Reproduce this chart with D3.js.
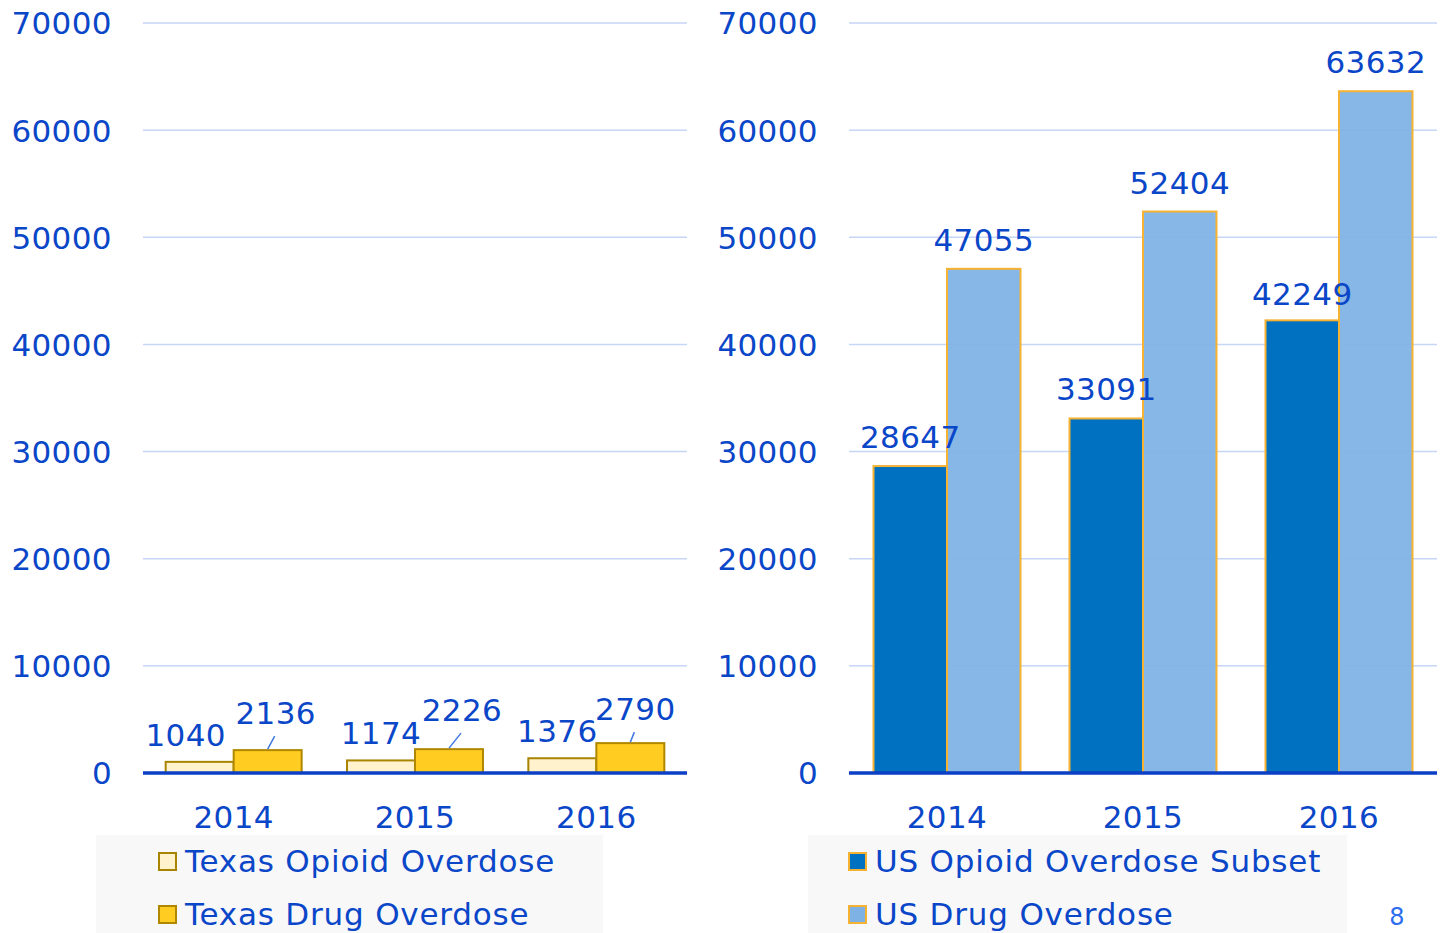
<!DOCTYPE html>
<html>
<head>
<meta charset="utf-8">
<script src="https://cdn.jsdelivr.net/npm/d3@7"></script>
<style>
  html, body { margin: 0; padding: 0; background: #ffffff; }
  svg { display: block; font-family: "DejaVu Sans", Verdana, sans-serif; letter-spacing: 0.4px; }
</style>
</head>
<body>
<svg id="chart" width="1443" height="933"></svg>
<script>
// ---- Data ----
const years = ["2014", "2015", "2016"];
const yTicks = [0, 10000, 20000, 30000, 40000, 50000, 60000, 70000];
const texasSeries = ["Texas Opioid Overdose", "Texas Drug Overdose"];
const texasOpioid = [1040, 1174, 1376];
const texasDrug = [2136, 2226, 2790];
const usSeries = ["US Opioid Overdose Subset", "US Drug Overdose"];
const usOpioid = [28647, 33091, 42249];
const usDrug = [47055, 52404, 63632];
const pageNumber = "8";

// ---- Layout / style ----
const W = 1443, H = 933;
const textColor = "#0a46c8";
const gridColor = "#c6d6f6";
const axisColor = "#0a3fc6";
const fontSize = 31;
const texasFill = ["#fff2cc", "#ffcc22"];
const texasStroke = ["#a88400", "#b08800"];
const usFill = ["#0070c0", "#7fb2e4"];
const usStroke = "#f5b233";
// label placement tweaks (Texas panel)
const opioidLabelDx = [-14, 0, -5];
const calloutDx = [8, 13, 5];
const calloutDy = [-25, -27, -22];

const svg = d3.select("#chart");
const y = d3.scaleLinear().domain([0, 70000]).range([773, 23]);

function panel(opts) {
  const g = svg.append("g");
  const x0 = d3.scaleBand().domain(years).range([opts.x0, opts.x1]).paddingInner(0).paddingOuter(0);
  const x1 = d3.scaleBand().domain(opts.series).range([x0.bandwidth() * 0.125, x0.bandwidth() * 0.875]);

  g.append("g").selectAll("line").data(yTicks.filter(t => t > 0)).join("line")
    .attr("x1", opts.x0).attr("x2", opts.x1)
    .attr("y1", d => y(d)).attr("y2", d => y(d))
    .attr("stroke", gridColor).attr("stroke-width", 1.5);

  const yAxis = d3.axisLeft(y).tickValues(yTicks).tickSize(0).tickPadding(0).tickFormat(d3.format("d"));
  const ya = g.append("g").attr("transform", `translate(${opts.labelX},0)`).call(yAxis);
  ya.select(".domain").remove();
  ya.selectAll("text").attr("fill", textColor).attr("font-size", fontSize)
    .attr("font-family", "DejaVu Sans, Verdana, sans-serif").attr("dy", "0.35em");

  const rows = years.map((yr, i) => ({ yr, i, vals: opts.values.map(v => v[i]) }));
  const grp = g.append("g").selectAll("g").data(rows).join("g")
    .attr("transform", d => `translate(${x0(d.yr)},0)`);
  grp.selectAll("rect").data(d => d.vals.map((v, k) => ({ v, k, s: opts.series[k] }))).join("rect")
    .attr("x", d => x1(d.s)).attr("width", x1.bandwidth())
    .attr("y", d => y(d.v)).attr("height", d => y(0) - y(d.v))
    .attr("fill", d => opts.fill[d.k])
    .attr("fill-opacity", d => opts.opacity ? opts.opacity[d.k] : 1)
    .attr("stroke", d => Array.isArray(opts.stroke) ? opts.stroke[d.k] : opts.stroke)
    .attr("stroke-width", 2);

  g.append("line").attr("x1", opts.x0).attr("x2", opts.x1)
    .attr("y1", y(0)).attr("y2", y(0))
    .attr("stroke", axisColor).attr("stroke-width", 3.5);

  const xAxis = d3.axisBottom(x0).tickSize(0).tickPadding(0);
  const xa = g.append("g").attr("transform", `translate(0,${y(0)})`).call(xAxis);
  xa.select(".domain").remove();
  xa.selectAll("text").attr("fill", textColor).attr("font-size", fontSize)
    .attr("font-family", "DejaVu Sans, Verdana, sans-serif").attr("dy", null).attr("y", 55);

  return { g, x0, x1, rows };
}

// ---- Left panel: Texas ----
const left = panel({ x0: 143, x1: 687, labelX: 112, series: texasSeries,
  values: [texasOpioid, texasDrug], fill: texasFill, stroke: texasStroke });
years.forEach((yr, i) => {
  const cO = left.x0(yr) + left.x1(texasSeries[0]) + left.x1.bandwidth() / 2;
  left.g.append("text").attr("x", cO + opioidLabelDx[i]).attr("y", y(texasOpioid[i]) - 16)
    .attr("text-anchor", "middle").attr("fill", textColor).attr("font-size", fontSize)
    .text(texasOpioid[i]);
  const cD = left.x0(yr) + left.x1(texasSeries[1]) + left.x1.bandwidth() / 2;
  const top = y(texasDrug[i]);
  left.g.append("line").attr("x1", cD).attr("y1", top - 1)
    .attr("x2", cD + calloutDx[i] - 1).attr("y2", top + calloutDy[i] + 11)
    .attr("stroke", "#3f78e0").attr("stroke-width", 1.5);
  left.g.append("text").attr("x", cD + calloutDx[i]).attr("y", top + calloutDy[i] - 1)
    .attr("text-anchor", "middle").attr("fill", textColor).attr("font-size", fontSize)
    .text(texasDrug[i]);
});

// ---- Right panel: US ----
const right = panel({ x0: 849, x1: 1437, labelX: 818, series: usSeries,
  values: [usOpioid, usDrug], fill: usFill, stroke: usStroke, opacity: [1, 0.94] });
years.forEach((yr, i) => {
  [usOpioid, usDrug].forEach((arr, k) => {
    const c = right.x0(yr) + right.x1(usSeries[k]) + right.x1.bandwidth() / 2;
    right.g.append("text").attr("x", c).attr("y", y(arr[i]) - (k === 0 && i === 2 ? 15 : 18))
      .attr("text-anchor", "middle").attr("fill", textColor).attr("font-size", fontSize)
      .text(arr[i]);
  });
});

// ---- Legends ----
function legend(x, w, series, fills, strokes, swatchX) {
  const g = svg.append("g");
  g.append("rect").attr("x", x).attr("y", 835).attr("width", w).attr("height", H - 835 + 5)
    .attr("fill", "#f8f8f8");
  series.forEach((s, k) => {
    const rowY = 861 + k * 53;
    g.append("rect").attr("x", swatchX).attr("y", rowY - 8).attr("width", 17).attr("height", 17)
      .attr("fill", fills[k]).attr("stroke", Array.isArray(strokes) ? strokes[k] : strokes).attr("stroke-width", 2);
    g.append("text").attr("x", swatchX + 26).attr("y", rowY).attr("dy", "0.35em")
      .attr("fill", textColor).attr("font-size", fontSize).attr("letter-spacing", "0.8px").text(s);
  });
}
legend(96, 507, texasSeries, texasFill, texasStroke, 159);
legend(808, 539, usSeries, usFill, usStroke, 849);

// page number
svg.append("text").attr("x", 1397).attr("y", 925).attr("text-anchor", "middle")
  .attr("fill", "#2f6ef0").attr("font-size", 24).text(pageNumber);
</script>
</body>
</html>
